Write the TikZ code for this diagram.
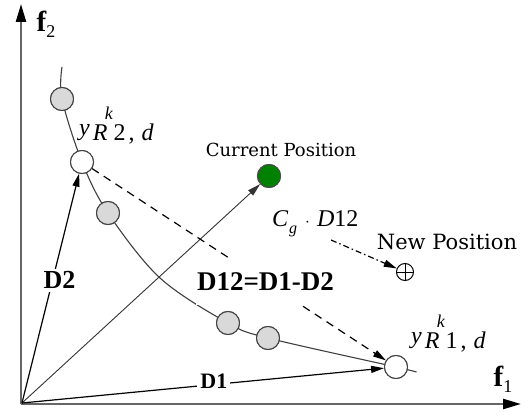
\documentclass[tikz,border=0pt]{standalone}
\usepackage{fontspec}
\setmainfont{Liberation Serif}
\newfontfamily\widefont{DejaVu Serif}
\usetikzlibrary{arrows.meta}
\newcommand{\ylab}[1]{{\itshape y}\hspace{3pt}\raisebox{-5pt}{\rlap{\raisebox{21pt}{\hspace{12pt}\fontsize{18}{18}\selectfont\itshape k}}{\itshape R}\hspace{6pt}#1\hspace{3pt},\hspace{7pt}{\itshape d}}}
\begin{document}
\begin{tikzpicture}[x=1pt,y=-1pt,
  axisline/.style={draw=black!60, line width=2.4pt, -{Triangle[length=18pt,width=10pt,color=black]}},
  front/.style={draw=black!75, line width=1.1pt},
  vec/.style={draw=black, line width=1.2pt, -{Triangle[length=13pt,width=7pt]}},
  thinvec/.style={draw=black!80, line width=0.9pt, -{Triangle[length=13pt,width=7pt]}},
  dashvec/.style={vec, dash pattern=on 8pt off 6pt},
  dotvec/.style={vec, line width=1.2pt, dash pattern=on 6pt off 3pt on 1.5pt off 3pt},
  pt/.style={circle, draw=black!75, line width=1pt, minimum size=23pt, inner sep=0pt},
  gpt/.style={pt, fill=black!15},
  wpt/.style={pt, fill=white},
  cpt/.style={pt, fill=green!50!black, draw=black!70},
  npt/.style={circle, draw=black, line width=1pt, minimum size=17pt, inner sep=0pt,
    path picture={\draw[line width=1pt] (path picture bounding box.north) -- (path picture bounding box.south)
      (path picture bounding box.west) -- (path picture bounding box.east);}},
  lbl/.style={fill=white, inner sep=3pt, font=\bfseries},
  txt/.style={inner sep=0pt}
]
\useasboundingbox (0,0) rectangle (528,417);
\fill[white] (0,0) rectangle (528,417);

% axes
\coordinate (ax0) at (21,404);
\coordinate (ytip) at (21,4);
\coordinate (xtip) at (521,404);
\coordinate (o) at (22,403);
\draw[axisline] (ax0) -- (ytip);
\draw[axisline] (ax0) -- (xtip);
\node[txt, font=\fontsize{29}{30}\selectfont] (f2) at (46,24) {{\bfseries f}\raisebox{-6pt}{\fontsize{18}{18}\selectfont 2}};
\node[txt, font=\fontsize{29}{30}\selectfont] (f1) at (503,379) {{\bfseries f}\raisebox{-6pt}{\fontsize{18}{18}\selectfont 1}};

% Pareto front points
\coordinate (top) at (62,67);
\coordinate (mid) at (160,278);
\coordinate (fend) at (416,372);
\node[gpt] (g1) at (62,99) {};
\node[wpt] (r2) at (82,162) {};
\node[gpt] (g2) at (108,213) {};
\node[gpt] (g3) at (228,323) {};
\node[gpt] (g4) at (268,338) {};
\node[wpt] (r1) at (396,367) {};
\node[cpt] (cur) at (269,176) {};
\node[npt] (new) at (405,272) {};

% front curve
\draw[front] plot[smooth, tension=0.55] coordinates {(top) (g1) (r2) (g2) (mid) (g3) (g4) (r1) (fend)};

% vectors from origin
\draw[thinvec] (o) -- (cur);
\draw[vec] (o) -- node[lbl, pos=0.535, xshift=7pt, font=\bfseries\fontsize{26}{28}\selectfont] {D2} (r2);
\draw[vec] (o) -- node[lbl, pos=0.53, yshift=3pt, font=\bfseries\fontsize{22}{24}\selectfont] {D1} (r1);
\draw[dashvec] (r2) -- node[lbl, pos=0.59, inner xsep=1pt, inner ysep=14pt, font=\bfseries\fontsize{27}{29}\selectfont] {D12=D1-D2} (r1);

% points on top of the curve and vectors
\node[gpt] at (g1) {};
\node[wpt] at (r2) {};
\node[gpt] at (g2) {};
\node[gpt] at (g3) {};
\node[gpt] at (g4) {};
\node[wpt] at (r1) {};
\node[cpt] at (cur) {};

% labels
\node[txt, anchor=base west, font=\fontsize{24}{26}\selectfont] (lr2) at (79,136) {\ylab{2}};
\node[txt, anchor=base west, font=\fontsize{24}{26}\selectfont] (lr1) at (411,343) {\ylab{1}};
\node[txt, font=\widefont\fontsize{18}{20}\selectfont] (curl) at (281,150) {Current Position};
\node[txt, font=\widefont\fontsize{21}{23}\selectfont] (newl) at (447,242) {New Position};
\node[txt, anchor=base west, font=\fontsize{24}{26}\selectfont] (cg) at (272,226) {{\itshape C}\hspace{1pt}\raisebox{-7pt}{\fontsize{16}{16}\selectfont\itshape g}\hspace{8pt}{\fontsize{16}{16}\selectfont$\cdot$}\hspace{7pt}{\itshape D}12};

% step to new position
\coordinate (cgtail) at (331,240);
\draw[dotvec] (cgtail) -- (new);
\end{tikzpicture}
\end{document}
